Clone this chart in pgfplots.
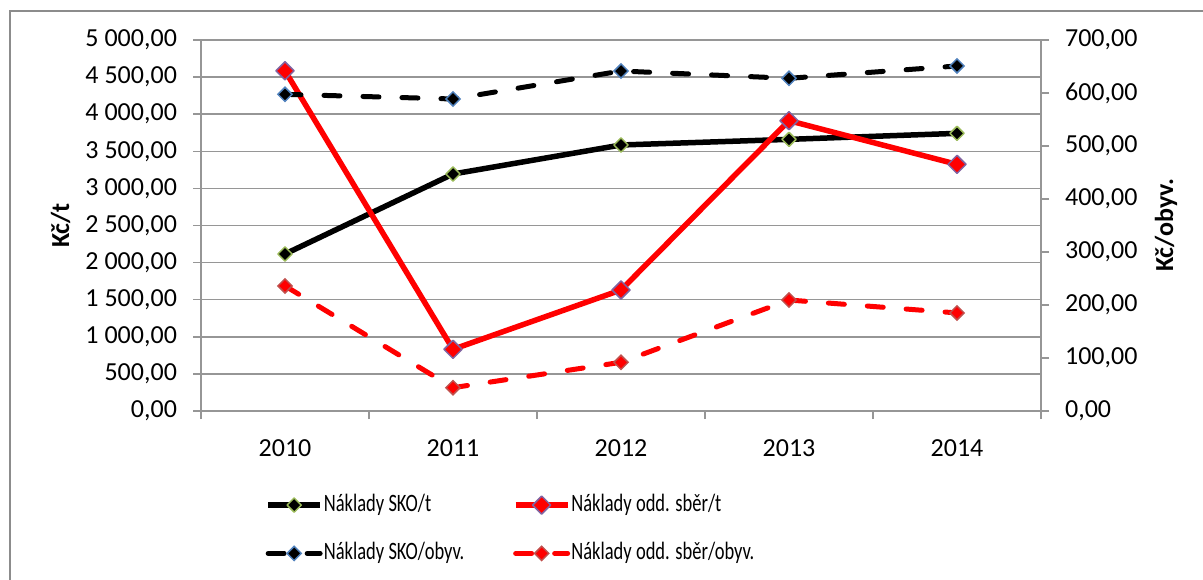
\documentclass[border=0pt]{standalone}
\usepackage{fontspec}
\setmainfont{Carlito}
\usepackage{graphicx}
\usepackage{pgfplots}
\pgfplotsset{compat=1.18}
\definecolor{gridgray}{RGB}{150,150,150}
\definecolor{frgray}{RGB}{140,140,140}
\definecolor{mkgreen}{RGB}{155,187,89}
\definecolor{mkblue}{RGB}{79,129,189}
\definecolor{mkpurple}{RGB}{128,100,162}
\definecolor{mkred}{RGB}{192,80,77}
\newcommand{\legtxt}[1]{\scalebox{0.74}[1]{#1}}
\pgfplotsset{
  base/.style={
    scale only axis, width=420pt, height=185.5pt,
    at={(100.5pt,84pt)}, anchor=south west,
    xmin=-0.5, xmax=4.5,
    tick align=outside, major tick length=4pt, minor tick length=4pt,
    tick label style={font=\fontsize{13}{15}\selectfont},
    axis line style={gridgray, line width=0.75pt},
    every tick/.style={gridgray, line width=0.75pt},
    ylabel style={font=\fontsize{13}{15}\selectfont\bfseries},
  },
  skot/.style={black, line width=2.75pt, line join=round, mark=square*, mark size=2.5pt,
    mark options={rotate=45, fill=black, draw=mkgreen, line width=0.75pt, solid}},
  oddt/.style={red, line width=2.75pt, line join=round, mark=square*, mark size=3.2pt,
    mark options={rotate=45, fill=red, draw=mkpurple, line width=0.75pt, solid}},
  skoob/.style={black, line width=2.5pt, line cap=round, dash pattern=on 8pt off 11.5pt,
    mark=square*, mark size=2.5pt,
    mark options={rotate=45, fill=black, draw=mkblue, line width=0.75pt, solid}},
  oddob/.style={red, line width=2.5pt, line cap=round, dash pattern=on 8pt off 11.5pt,
    mark=square*, mark size=2.5pt,
    mark options={rotate=45, fill=red, draw=mkred, line width=0.75pt, solid}},
}
\begin{document}
\begin{tikzpicture}
\path[use as bounding box] (0,0) rectangle (601.5pt,289.5pt);
\draw[frgray, line width=0.75pt] (5pt,-2pt) -- (5pt,284pt) -- (604pt,284pt);

\begin{axis}[base,
  axis x line*=bottom, axis y line*=left,
  ymin=0, ymax=5000,
  ytick={0,500,1000,1500,2000,2500,3000,3500,4000,4500,5000},
  yticklabels={{0,00},{500,00},{1 000,00},{1 500,00},{2 000,00},{2 500,00},{3 000,00},{3 500,00},{4 000,00},{4 500,00},{5 000,00}},
  yticklabel style={xshift=-4.5pt},
  ymajorgrids, grid style={gridgray, line width=0.75pt},
  xtick={0,1,2,3,4}, xticklabels={2010,2011,2012,2013,2014},
  major x tick style={draw=none},
  minor xtick={-0.5,0.5,1.5,2.5,3.5,4.5},
  minor x tick style={gridgray, line width=0.75pt},
  xticklabel style={yshift=-7pt},
  ylabel={Kč/t},
  ylabel style={at={(axis description cs:-0.1673,0.5)}, anchor=center},
]
\addplot[skot] coordinates {(0,2116) (1,3194) (2,3585) (3,3661) (4,3742)};
\addplot[oddt] coordinates {(0,4585) (1,831) (2,1631) (3,3913) (4,3324)};
\end{axis}

\begin{axis}[base,
  axis y line*=right, axis x line=none,
  ymin=0, ymax=700,
  ytick={0,100,200,300,400,500,600,700},
  yticklabels={{0,00},{100,00},{200,00},{300,00},{400,00},{500,00},{600,00},{700,00}},
  yticklabel style={xshift=4.5pt},
  ylabel={Kč/obyv.},
  ylabel style={at={(axis description cs:1.1488,0.5)}, anchor=center},
  legend columns=2,
  legend cell align=left,
  legend image code/.code={\draw[mark repeat=2, mark phase=2, #1] plot coordinates {(0pt,0pt) (13pt,0pt) (26pt,0pt)};},
  legend style={at={(axis description cs:0.07619,-0.2202)}, anchor=north west,
    draw=none, fill=none, inner sep=0pt, row sep=12.15pt,
    nodes={font=\fontsize{12.5}{14}\selectfont, inner xsep=0.5pt, inner ysep=0pt,
      text height=9pt, text depth=3pt}},
]
\addlegendimage{skot}
\addlegendentry{\makebox[94pt][l]{\legtxt{Náklady SKO/t}}}
\addlegendimage{oddt}
\addlegendentry{\legtxt{Náklady odd. sběr/t}}
\addplot[skoob] coordinates {(0,597.5) (1,588.7) (2,641.5) (3,627.7) (4,651)};
\addlegendentry{\makebox[94pt][l]{\legtxt{Náklady SKO/obyv.}}}
\addplot[oddob] coordinates {(0,236) (1,44) (2,91.9) (3,209.4) (4,185)};
\addlegendentry{\legtxt{Náklady odd. sběr/obyv.}}
\end{axis}
\end{tikzpicture}
\end{document}
